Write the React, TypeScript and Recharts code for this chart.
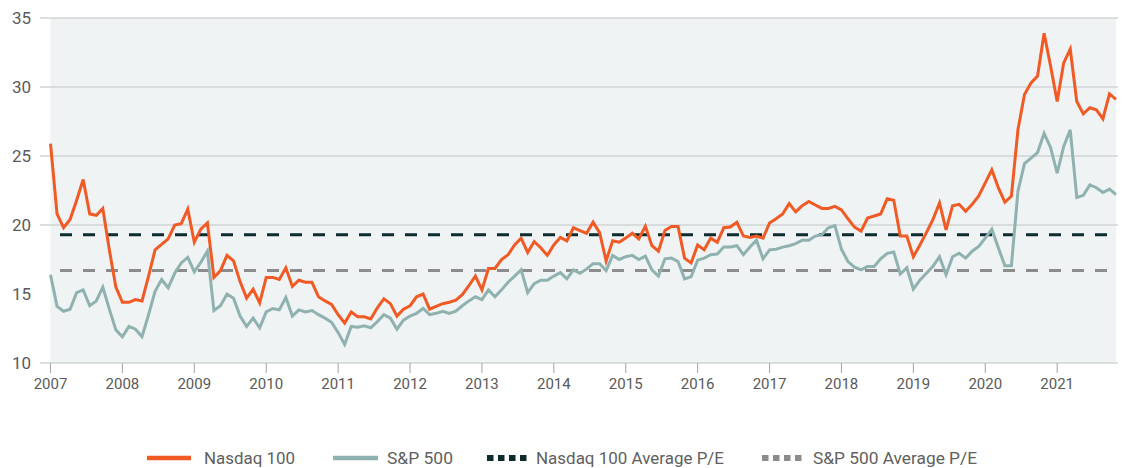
import React from "react";
import { LineChart, Line, XAxis, YAxis, ReferenceArea, ReferenceLine } from "recharts";

// forward P/E, 11 readings per year, Jan 2007 .. late 2021
const nasdaq100 = [
  25.9, 20.8, 19.8, 20.4, 21.8, 23.3, 20.8, 20.7, 21.2, 18.2, 15.5, 14.4,
  14.4, 14.6, 14.5, 16.3, 18.2, 18.6, 19.0, 20.0, 20.1, 21.15, 18.75, 19.7,
  20.15, 16.2, 16.7, 17.8, 17.4, 15.9, 14.7, 15.35, 14.35, 16.2, 16.2, 16.05,
  16.9, 15.55, 16.0, 15.85, 15.85, 14.8, 14.5, 14.25, 13.5, 12.9, 13.7,
  13.35, 13.35, 13.2, 14.0, 14.65, 14.3, 13.4, 13.9, 14.15, 14.8, 15.0, 13.9,
  14.1, 14.3, 14.4, 14.55, 14.95, 15.6, 16.3, 15.3, 16.85, 16.85, 17.5,
  17.85, 18.55, 19.05, 18.0, 18.8, 18.35, 17.8, 18.55, 19.1, 18.85, 19.8,
  19.6, 19.4, 20.2, 19.45, 17.4, 18.85, 18.75, 19.05, 19.4, 19.0, 19.9,
  18.5, 18.1, 19.6, 19.9, 19.9, 17.6, 17.25, 18.55, 18.2, 19.05, 18.75, 19.8,
  19.85, 20.2, 19.2, 19.1, 19.2, 19.05, 20.15, 20.45, 20.8, 21.55, 20.95, 21.4, 21.7,
  21.45, 21.2, 21.2, 21.35, 21.1, 20.45, 19.85, 19.55, 20.5, 20.65, 20.8, 21.9,
  21.8, 19.2, 19.2, 17.7, 18.55, 19.45, 20.4, 21.6, 19.65, 21.4, 21.5, 21.0,
  21.5, 22.1, 23.05, 24.0, 22.7, 21.65, 22.1, 26.9, 29.45, 30.3, 30.8, 33.9,
  31.5, 28.95, 31.75, 32.75, 28.95, 28.05, 28.5, 28.35, 27.7, 29.5, 29.1,
];

const sp500 = [
  16.4, 14.1, 13.75, 13.9, 15.1, 15.3, 14.15, 14.5, 15.5, 13.9, 12.4, 11.9,
  12.65, 12.45, 11.9, 13.5, 15.2, 16.05, 15.45, 16.5, 17.25, 17.65, 16.6, 17.3,
  18.1, 13.8, 14.15, 15.0, 14.7, 13.4, 12.65, 13.25, 12.55, 13.7, 13.95, 13.85,
  14.75, 13.4, 13.85, 13.7, 13.8, 13.5, 13.25, 12.95, 12.2, 11.35, 12.65,
  12.6, 12.7, 12.55, 13.0, 13.5, 13.25, 12.45, 13.1, 13.4, 13.6, 13.95, 13.5,
  13.6, 13.75, 13.6, 13.75, 14.15, 14.5, 14.8, 14.6, 15.3, 14.8, 15.3,
  15.85, 16.3, 16.75, 15.1, 15.75, 16.0, 16.0, 16.3, 16.55, 16.1, 16.75,
  16.5, 16.8, 17.2, 17.2, 16.7, 17.8, 17.5, 17.7, 17.8, 17.5, 17.75,
  16.75, 16.3, 17.55, 17.6, 17.35, 16.1, 16.25, 17.45, 17.6, 17.85, 17.9, 18.4,
  18.4, 18.5, 17.85, 18.4, 18.9, 17.55, 18.2, 18.25, 18.4, 18.5, 18.65, 18.9, 18.9,
  19.2, 19.3, 19.8, 19.95, 18.25, 17.35, 16.95, 16.75, 17.0, 17.0, 17.55, 17.95,
  18.05, 16.45, 16.9, 15.35, 16.0, 16.5, 17.0, 17.7, 16.4, 17.7, 17.95, 17.6,
  18.1, 18.45, 19.05, 19.7, 18.35, 17.05, 17.05, 22.45, 24.45, 24.85, 25.25, 26.65,
  25.6, 23.75, 25.7, 26.9, 22.0, 22.15, 22.9, 22.7, 22.35, 22.6, 22.2,
];

const nasdaqAvg = 19.3;
const spAvg = 16.7;

const years = ["2007", "2008", "2009", "2010", "2011", "2012", "2013", "2014", "2015", "2016", "2017", "2018", "2019", "2020", "2021"];
const perYear = 11;
const yTicks = [10, 15, 20, 25, 30, 35];
const gridValues = [20, 25, 30, 35];

const ORANGE = "#f15a24";
const TEAL = "#8fb2b0";
const DARK = "#0e2b30";
const GREY = "#8c8c8c";
const GRID = "#d2d5d5";
const FONT = "Roboto, 'Open Sans', sans-serif";

const data = nasdaq100.map((v, i) => ({ i, nasdaq: v, sp: sp500[i] }));
const last = data.length - 1;

// legend swatch start, swatch width, text start, text width (the source font is condensed)
const legendItems = [
  { label: "Nasdaq 100", color: ORANGE, dotted: false, sx: 147, sw: 44, tx: 204, tw: 91 },
  { label: "S&P 500", color: TEAL, dotted: false, sx: 333, sw: 45, tx: 387, tw: 66 },
  { label: "Nasdaq 100 Average P/E", color: DARK, dotted: true, sx: 487, sw: 40, tx: 536, tw: 188 },
  { label: "S&P 500 Average P/E", color: GREY, dotted: true, sx: 762, sw: 40, tx: 813, tw: 164 },
];

function ChartLegend() {
  return (
    <svg width={1123} height={28} style={{ position: "absolute", left: 0, top: 440 }}>
      {legendItems.map((it) => (
        <g key={it.label}>
          <line
            x1={it.sx}
            y1={18}
            x2={it.sx + it.sw}
            y2={18}
            stroke={it.color}
            strokeWidth={it.dotted ? 6 : 4.5}
            strokeDasharray={it.dotted ? "6.5 4.5" : undefined}
          />
          <text x={it.tx} y={24} fontFamily={FONT} fontSize={17} fill="#606060" textLength={it.tw} lengthAdjust="spacingAndGlyphs">
            {it.label}
          </text>
        </g>
      ))}
    </svg>
  );
}

export default function App() {
  return (
    <div style={{ position: "absolute", left: 0, top: 0, width: 1123, height: 468, background: "#fff" }}>
      <LineChart width={1123} height={400} data={data} margin={{ top: 18, right: 5, left: 0, bottom: 0 }}>
        <ReferenceArea x1={0} x2={last} y1={10} y2={35} fill="#eff3f4" fillOpacity={1} stroke="none" />
        {gridValues.map((g) => (
          <ReferenceLine key={g} y={g} stroke={GRID} strokeWidth={1.5} />
        ))}
        <XAxis
          type="number"
          dataKey="i"
          domain={[0, last]}
          ticks={years.map((_, j) => j * perYear)}
          tickFormatter={(v) => years[Math.round(v / perYear)]}
          padding={{ left: 10.5, right: 2 }}
          axisLine={{ stroke: GRID, strokeWidth: 1.5 }}
          tickLine={{ stroke: "#a3a3a3" }}
          tickSize={10}
          tickMargin={5}
          height={37}
          tick={{ fill: "#5a5a5a", fontSize: 15, fontFamily: FONT }}
        />
        <YAxis
          domain={[10, 35]}
          ticks={yTicks}
          width={40}
          axisLine={false}
          tickLine={false}
          tickSize={0}
          tickMargin={9}
          tick={{ fill: "#5a5a5a", fontSize: 17, fontFamily: FONT }}
        />
        <ReferenceLine
          segment={[{ x: 0, y: nasdaqAvg }, { x: last, y: nasdaqAvg }]}
          stroke={DARK}
          strokeWidth={3}
          strokeDasharray="12 11"
          strokeDashoffset={13.5}
        />
        <ReferenceLine
          segment={[{ x: 0, y: spAvg }, { x: last, y: spAvg }]}
          stroke={GREY}
          strokeWidth={3}
          strokeDasharray="12 11"
          strokeDashoffset={13.5}
        />
        <Line type="linear" dataKey="sp" stroke={TEAL} strokeWidth={3} dot={false} isAnimationActive={false} />
        <Line type="linear" dataKey="nasdaq" stroke={ORANGE} strokeWidth={3} dot={false} isAnimationActive={false} />
      </LineChart>
      <ChartLegend />
    </div>
  );
}
